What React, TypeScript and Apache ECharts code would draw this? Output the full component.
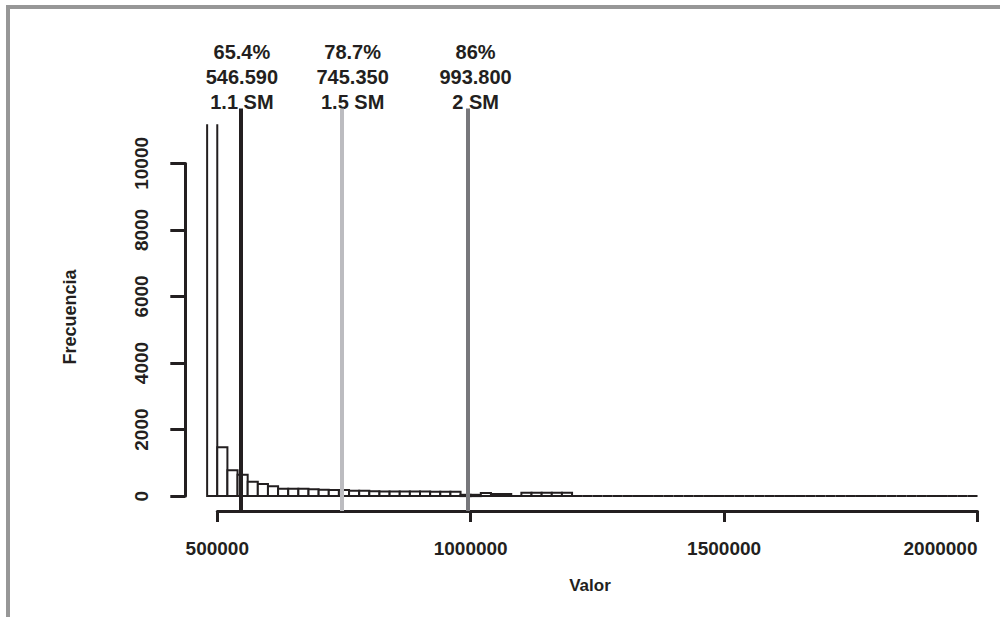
import React, { useEffect, useRef } from "react";
import * as echarts from "echarts";

// Histogram bins (R hist style): width 20000 starting at 480000
const binStart = 480000;
const binWidth = 20000;
const counts = [
  13500, 1470, 780, 640, 430, 365, 300, 225, 220, 220,
  210, 190, 185, 185, 165, 165, 145, 140, 140, 140,
  140, 140, 135, 130, 130, 40, 40, 95, 65, 65,
  0, 100, 100, 100, 100, 100, 0, 0, 0, 0,
  0, 0, 0, 0, 0, 0, 0, 0, 0, 0,
  0, 0, 0, 0, 0, 0, 0, 0, 0, 0,
  0, 0, 0, 0, 0, 0, 0, 0, 0, 0,
  0, 0, 0, 0, 0, 0,
];
// Upper limit of the drawn bars (the tallest bar is cut off there)
const yClip = 11180;

// Reference lines (multiples of the minimum wage)
const refValues = [546590, 745350, 993800];
const refPercent = ["65.4%", "78.7%", "86%"];
const refAmount = ["546.590", "745.350", "993.800"];
const refSM = ["1.1 SM", "1.5 SM", "2 SM"];
const refColors = ["#231f20", "#bcbcc0", "#77777b"];
const labelShift = [1, 11, 8];

// Axis ticks
const xTicks = [500000, 1000000, 1500000, 2000000];
const yTicks = [0, 2000, 4000, 6000, 8000, 10000];

const xTitle = "Valor";
const yTitle = "Frecuencia";

const FONT = "'Liberation Sans', Arial, Helvetica, sans-serif";
const INK = "#231f20";

export default function App() {
  const ref = useRef<HTMLDivElement>(null);

  useEffect(() => {
    if (!ref.current) return;
    const chart = echarts.init(ref.current, undefined, { renderer: "svg" });

    const yMin = -0.04 * yClip;
    const yMax = 1.04 * 11200;

    const bins = counts.map((c, i) => [
      binStart + i * binWidth,
      binStart + (i + 1) * binWidth,
      c,
    ]);

    const option: any = {
      animation: false,
      backgroundColor: "#ffffff",
      grid: [
        { left: 197, top: 108.6, width: 800.8, height: 402.4, outerBoundsMode: "none", containLabel: false },
        { left: 185.3, top: 163.4, width: 10, height: 332.7, outerBoundsMode: "none", containLabel: false },
        { left: 217.3, top: 510, width: 760.2, height: 1, outerBoundsMode: "none", containLabel: false },
      ],
      xAxis: [
        { gridIndex: 0, type: "value", min: 460000, max: 2040000, show: false },
        { gridIndex: 1, type: "value", min: 0, max: 1, show: false },
        {
          gridIndex: 2,
          type: "value",
          min: xTicks[0],
          max: xTicks[xTicks.length - 1],
          interval: xTicks[1] - xTicks[0],
          position: "bottom",
          splitLine: { show: false },
          axisLine: { show: true, lineStyle: { color: INK, width: 3 } },
          axisTick: { show: true, length: 11, lineStyle: { color: INK, width: 3 } },
          axisLabel: {
            margin: 28,
            color: INK,
            fontSize: 19,
            fontWeight: "bold",
            fontFamily: FONT,
            hideOverlap: false,
            alignMaxLabel: "right",
            formatter: (v: number) => String(v),
          },
        },
      ],
      yAxis: [
        { gridIndex: 0, type: "value", min: yMin, max: yMax, show: false },
        {
          gridIndex: 1,
          type: "value",
          min: yTicks[0],
          max: yTicks[yTicks.length - 1],
          interval: yTicks[1] - yTicks[0],
          position: "left",
          splitLine: { show: false },
          axisLine: { show: true, lineStyle: { color: INK, width: 3 } },
          axisTick: { show: true, length: 15, lineStyle: { color: INK, width: 3 } },
          axisLabel: {
            rotate: 90,
            margin: 34,
            color: INK,
            fontSize: 19,
            fontWeight: "bold",
            fontFamily: FONT,
            formatter: (v: number) => String(v),
          },
        },
        { gridIndex: 2, type: "value", min: 0, max: 1, show: false },
      ],
      series: [
        {
          type: "custom",
          xAxisIndex: 0,
          yAxisIndex: 0,
          silent: true,
          z: 2,
          encode: { x: [0, 1], y: 2 },
          data: bins,
          renderItem: (_params: any, api: any) => {
            const x0 = api.value(0);
            const x1 = api.value(1);
            const c = api.value(2);
            const clipped = c > yClip;
            const p0 = api.coord([x0, 0]);
            const p1 = api.coord([x1, Math.min(c, yClip)]);
            if (clipped) {
              return {
                type: "group",
                children: [
                  {
                    type: "rect",
                    shape: { x: p0[0], y: p1[1], width: p1[0] - p0[0], height: p0[1] - p1[1] },
                    style: { fill: "#ffffff", stroke: null },
                  },
                  {
                    type: "polyline",
                    shape: {
                      points: [
                        [p0[0], p1[1]],
                        [p0[0], p0[1]],
                        [p1[0], p0[1]],
                        [p1[0], p1[1]],
                      ],
                    },
                    style: { fill: null, stroke: INK, lineWidth: 2 },
                  },
                ],
              };
            }
            return {
              type: "rect",
              shape: {
                x: p0[0],
                y: p1[1],
                width: p1[0] - p0[0],
                height: p0[1] - p1[1],
              },
              style: { fill: "#ffffff", stroke: INK, lineWidth: 2 },
            };
          },
        },
        {
          type: "line",
          xAxisIndex: 0,
          yAxisIndex: 0,
          data: [],
          silent: true,
          z: 5,
          markLine: {
            silent: true,
            symbol: ["none", "none"],
            label: { show: false },
            data: refValues.map((v, i) => ({
              xAxis: v,
              lineStyle: { color: refColors[i], width: 4, type: "solid" },
            })),
          },
        },
      ],
    };

    chart.setOption(option);

    const graphics: any[] = [
      {
        type: "rect",
        silent: true,
        shape: { x: 8, y: 7, width: 1010, height: 630 },
        style: { fill: "none", stroke: "#979797", lineWidth: 4 },
      },
      {
        type: "text",
        silent: true,
        x: 590,
        y: 585,
        style: {
          text: xTitle,
          fill: INK,
          fontSize: 17,
          fontWeight: "bold",
          fontFamily: FONT,
          align: "center",
          verticalAlign: "middle",
        },
      },
      {
        type: "text",
        silent: true,
        x: 70,
        y: 317,
        rotation: Math.PI / 2,
        style: {
          text: yTitle,
          fill: INK,
          fontSize: 18,
          fontWeight: "bold",
          fontFamily: FONT,
          align: "center",
          verticalAlign: "middle",
        },
      },
    ];

    refValues.forEach((v, i) => {
      const px = chart.convertToPixel({ xAxisIndex: 0 }, v) as number;
      graphics.push({
        type: "text",
        silent: true,
        x: px + labelShift[i],
        y: 77,
        style: {
          text: [refPercent[i], refAmount[i], refSM[i]].join("\n"),
          fill: INK,
          fontSize: 20,
          lineHeight: 25,
          fontWeight: "bold",
          fontFamily: FONT,
          align: "center",
          verticalAlign: "middle",
        },
      });
    });

    chart.setOption({ graphic: graphics });

    return () => {
      chart.dispose();
    };
  }, []);

  return (
    <div
      ref={ref}
      style={{ position: "fixed", left: 0, top: 0, width: 1000, height: 617, background: "#fff" }}
    />
  );
}
